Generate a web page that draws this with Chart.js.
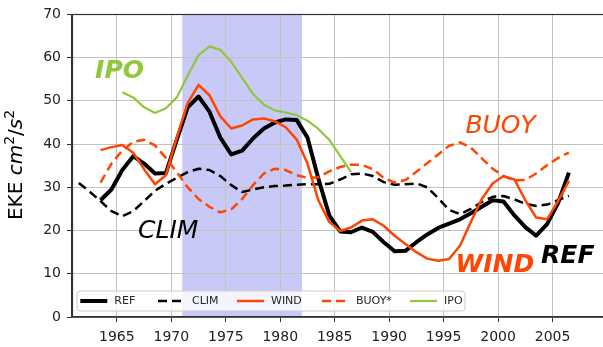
<!DOCTYPE html>
<html><head><meta charset="utf-8">
<script src="https://cdn.jsdelivr.net/npm/chart.js@4/dist/chart.umd.min.js"></script>
<style>
html,body{margin:0;padding:0;background:#fff;overflow:hidden;width:603px;height:347px}
#wrap{position:relative;width:610px;height:347px}
canvas{display:block}
</style>
</head><body><div id="wrap"><canvas id="c" width="610" height="347" style="width:610px;height:347px"></canvas></div>
<script>
// ---- data (mid-year values) ----
const YEARS = [1961.5,1962.5,1963.5,1964.5,1965.5,1966.5,1967.5,1968.5,1969.5,1970.5,
  1971.5,1972.5,1973.5,1974.5,1975.5,1976.5,1977.5,1978.5,1979.5,1980.5,
  1981.5,1982.5,1983.5,1984.5,1985.5,1986.5,1987.5,1988.5,1989.5,1990.5,
  1991.5,1992.5,1993.5,1994.5,1995.5,1996.5,1997.5,1998.5,1999.5,2000.5,
  2001.5,2002.5,2003.5,2004.5,2005.5,2006.5];
const REF = [null,null,27,29.5,34,37.2,35.5,33.2,33.3,41,
  48.5,51,47.5,41.5,37.6,38.5,41.3,43.6,45,45.7,
  45.6,41.5,32,23.5,19.8,19.6,20.7,19.7,17.3,15.2,
  15.3,17.3,19.1,20.6,21.6,22.6,24,25.5,27,26.7,
  23.5,20.8,18.8,21.5,26.3,33.4];
const CLIM = [31,29,26.8,24.5,23.3,24.5,26.8,29.2,30.8,32.2,
  33.5,34.3,34,32.6,30.5,28.9,29.5,30,30.3,30.4,
  30.6,30.7,30.7,30.8,31.8,33,33.2,32.6,31.2,30.6,
  30.7,30.9,30,27.5,24.8,23.8,25,26.6,27.8,28,
  27.2,26.2,25.7,26,27,28];
const WIND = [null,null,38.6,39.3,39.8,38,34.2,30.7,32.8,41.5,
  49.5,53.7,51.3,46.4,43.6,44.3,45.7,45.9,45.3,43.9,
  41.1,35.5,27,22,19.9,20.7,22.3,22.6,21.1,18.8,
  16.9,15,13.5,13,13.4,16.5,22,27.3,30.9,32.6,
  31.8,27,23,22.6,26.8,31.5];
const BUOY = [null,null,31.1,35.5,38.5,40.5,41,39.7,36.8,33.5,
  30,27.3,25.5,24.2,24.9,27.3,30.5,33.2,34.3,34,
  32.8,32.2,32.3,33.7,34.7,35.2,35.2,34.2,32.2,31.1,
  31.7,33.6,35.6,37.6,39.6,40.4,39.2,36.7,34.3,32.6,
  31.6,31.7,33.2,35.1,36.8,38];
const IPO = [null,null,null,null,52,50.8,48.5,47.2,48.3,50.8,
  55.8,60.6,62.6,61.8,59,55.3,51.6,49.1,47.8,47.3,
  46.7,45.4,43.5,41,37.3,33.5,null,null,null,null,
  null,null,null,null,null,null,null,null,null,null,
  null,null,null,null,null,null];
const X_TICKS = [1965,1970,1975,1980,1985,1990,1995,2000,2005];
const Y_TICKS = [0,10,20,30,40,50,60,70];
const SPAN = [1971, 1982];
const SERIES_NAMES = ['REF','CLIM','WIND','BUOY*','IPO'];
const ANNOT_TEXT = ['IPO','BUOY','CLIM','WIND','REF'];

// ---- styling ----
const FONT = '"DejaVu Sans", "Liberation Sans", sans-serif';
const ORANGE = '#ff4500', GREEN = '#8fc83a', BLACK = '#000000';
const styles = [
  {color: BLACK, width: 4, dash: []},
  {color: BLACK, width: 2.5, dash: [9,5]},
  {color: ORANGE, width: 2.5, dash: []},
  {color: ORANGE, width: 2.5, dash: [9,5]},
  {color: GREEN, width: 2.2, dash: []}
];
const seriesValues = [REF, CLIM, WIND, BUOY, IPO];
const toPts = arr => YEARS.map((x,i) => ({x: x, y: arr[i]}));

const datasets = seriesValues.map((arr, i) => ({
  label: SERIES_NAMES[i],
  data: toPts(arr),
  borderColor: styles[i].color,
  backgroundColor: styles[i].color,
  borderWidth: styles[i].width,
  borderDash: styles[i].dash,
  borderJoinStyle: 'round',
  borderCapStyle: 'butt',
  pointRadius: 0,
  tension: 0,
  fill: false,
  spanGaps: false,
  order: 5 - i
}));

const annotations = [
  {text: ANNOT_TEXT[0], x: 1963.0, y: 55.3, font: 'italic bold 25px ' + FONT, color: GREEN},
  {text: ANNOT_TEXT[1], x: 1997.0, y: 42.5, font: 'italic 25px ' + FONT, color: ORANGE},
  {text: ANNOT_TEXT[2], x: 1966.95, y: 18.3, font: 'italic 25px ' + FONT, color: BLACK},
  {text: ANNOT_TEXT[3], x: 1996.1, y: 10.5, font: 'italic bold 25px ' + FONT, color: ORANGE},
  {text: ANNOT_TEXT[4], x: 2003.95, y: 12.5, font: 'italic bold 25px ' + FONT, color: BLACK}
];

const backgroundPlugin = {
  id: 'bg',
  beforeDraw(chart) {
    const {ctx, chartArea: ca, scales} = chart;
    ctx.save();
    ctx.fillStyle = '#ffffff';
    ctx.fillRect(0, 0, chart.width, chart.height);
    const x0 = scales.x.getPixelForValue(SPAN[0]);
    const x1 = scales.x.getPixelForValue(SPAN[1]);
    ctx.fillStyle = '#c9c9f8';
    ctx.fillRect(x0, ca.top, x1 - x0, ca.bottom - ca.top);
    ctx.restore();
  }
};

const annotPlugin = {
  id: 'annot',
  afterDatasetsDraw(chart) {
    const {ctx, scales} = chart;
    ctx.save();
    const ca = chart.chartArea;
    ctx.strokeStyle = '#333';
    ctx.lineWidth = 1.2;
    ctx.strokeRect(Math.round(ca.left) + 0.5, Math.round(ca.top) + 0.5, ca.right - ca.left, ca.bottom - ca.top);
    ctx.textAlign = 'left';
    ctx.textBaseline = 'alphabetic';
    annotations.forEach(a => {
      ctx.font = a.font;
      ctx.fillStyle = a.color;
      ctx.fillText(a.text, scales.x.getPixelForValue(a.x), scales.y.getPixelForValue(a.y));
    });
    ctx.restore();
  }
};

const legendPlugin = {
  id: 'customLegend',
  afterDraw(chart) {
    const {ctx, chartArea: ca} = chart;
    const bx = ca.left + 5, by = ca.bottom - 26, bw = 388, bh = 20, r = 3;
    ctx.save();
    ctx.beginPath();
    ctx.moveTo(bx + r, by);
    ctx.lineTo(bx + bw - r, by); ctx.quadraticCurveTo(bx + bw, by, bx + bw, by + r);
    ctx.lineTo(bx + bw, by + bh - r); ctx.quadraticCurveTo(bx + bw, by + bh, bx + bw - r, by + bh);
    ctx.lineTo(bx + r, by + bh); ctx.quadraticCurveTo(bx, by + bh, bx, by + bh - r);
    ctx.lineTo(bx, by + r); ctx.quadraticCurveTo(bx, by, bx + r, by);
    ctx.closePath();
    ctx.fillStyle = 'rgba(255,255,255,0.8)';
    ctx.fill();
    ctx.strokeStyle = '#cccccc';
    ctx.lineWidth = 1;
    ctx.stroke();
    const offs = [3.3, 81, 160, 245, 333];
    const cy = by + bh / 2;
    ctx.font = '11px ' + FONT;
    ctx.textBaseline = 'middle';
    SERIES_NAMES.forEach((name, i) => {
      const s = bx + offs[i];
      ctx.beginPath();
      ctx.setLineDash(styles[i].dash);
      ctx.lineWidth = styles[i].width;
      ctx.strokeStyle = styles[i].color;
      ctx.lineCap = 'butt';
      ctx.moveTo(s, cy);
      ctx.lineTo(s + 27, cy);
      ctx.stroke();
      ctx.setLineDash([]);
      ctx.fillStyle = '#262626';
      ctx.fillText(name, s + 34, cy + 0.5);
    });
    // y-axis title: EKE cm^2/s^2
    const parts = [
      {t: 'EKE ', f: '20px ' + FONT, dy: 0},
      {t: 'cm', f: 'italic 20px ' + FONT, dy: 0},
      {t: '2', f: '14px ' + FONT, dy: -8},
      {t: '/', f: '20px ' + FONT, dy: 0},
      {t: 's', f: 'italic 20px ' + FONT, dy: 0},
      {t: '2', f: '14px ' + FONT, dy: -8}
    ];
    let total = 0;
    parts.forEach(p => { ctx.font = p.f; p.w = ctx.measureText(p.t).width; total += p.w; });
    ctx.translate(22, 165);
    ctx.rotate(-Math.PI / 2);
    ctx.fillStyle = '#000';
    ctx.textBaseline = 'alphabetic';
    ctx.textAlign = 'left';
    let x = -total / 2;
    parts.forEach(p => { ctx.font = p.f; ctx.fillText(p.t, x, p.dy); x += p.w; });
    ctx.restore();
  }
};

new Chart(document.getElementById('c'), {
  type: 'line',
  data: {datasets},
  options: {
    responsive: false,
    animation: false,
    devicePixelRatio: 1,
    layout: {padding: {top: 13, right: 3, left: 0, bottom: 0}},
    plugins: {legend: {display: false}, tooltip: {enabled: false}},
    scales: {
      x: {
        type: 'linear', min: 1960.88, max: 2010,
        afterBuildTicks: s => { s.ticks = X_TICKS.map(v => ({value: v})); },
        afterFit: s => { s.height = 30; },
        grid: {color: '#c2c2c2', lineWidth: 1, drawTicks: true, tickLength: 5, tickColor: '#333', tickWidth: 1},
        border: {display: true, color: '#333', width: 1.2},
        ticks: {font: {family: FONT, size: 14}, color: '#222', padding: 7, maxRotation: 0, autoSkip: false,
                callback: v => String(v)}
      },
      y: {
        type: 'linear', min: 0, max: 70,
        afterBuildTicks: s => { s.ticks = Y_TICKS.map(v => ({value: v})); },
        afterFit: s => { s.width = 72; },
        grid: {color: '#c2c2c2', lineWidth: 1, drawTicks: true, tickLength: 5, tickColor: '#333', tickWidth: 1},
        border: {display: true, color: '#333', width: 1.2},
        ticks: {font: {family: FONT, size: 14}, color: '#222', padding: 6, callback: v => String(v)}
      }
    }
  },
  plugins: [backgroundPlugin, annotPlugin, legendPlugin]
});
</script>
</body></html>
